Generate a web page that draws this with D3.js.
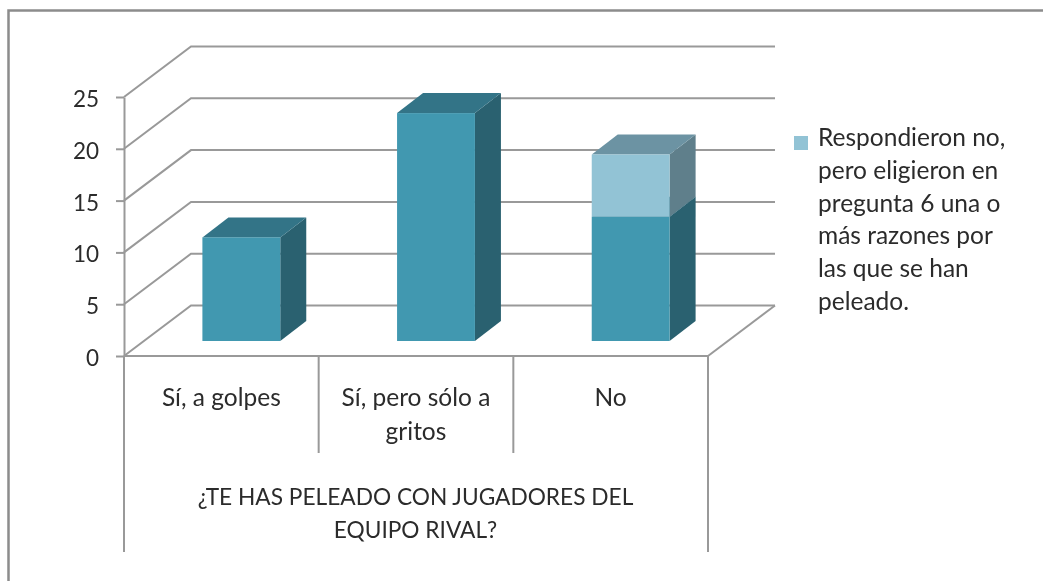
<!DOCTYPE html>
<html>
<head>
<meta charset="utf-8">
<script src="https://cdn.jsdelivr.net/npm/d3@7"></script>
<style>
  html, body { margin: 0; padding: 0; background: #fff; overflow: hidden; }
  svg { display: block; filter: blur(0.45px); }
  text { font-family: Lato, "Open Sans", sans-serif; fill: #2b2b2b; }
  .rule { stroke: #999; stroke-width: 2; fill: none; }
</style>
</head>
<body>
<div id="chart"></div>
<script>
// Datos
const categorias = ["Sí, a golpes", "Sí, pero sólo a gritos", "No"];
const respondieron = [10, 22, 12];
const eligieron = [0, 0, 6];
const ticksY = [0, 5, 10, 15, 20, 25];
const etiquetasCat = [["Sí, a golpes"], ["Sí, pero sólo a", "gritos"], ["No"]];
const tituloEje = ["¿TE HAS PELEADO CON JUGADORES DEL", "EQUIPO RIVAL?"];
const leyenda = ["Respondieron no,", "pero eligieron en", "pregunta 6 una o", "más razones por", "las que se han", "peleado."];

const W = 1043, H = 581;
const FONT_TICK = 22.5;
const FONT_LABEL = 24.5;  // Lato es mas estrecha en minusculas que el original
const FONT_TITLE = 22.7;

// Geometria del "3D"
const X0 = 124, X1 = 708, Y0 = 356, Y25 = 97;
const DEPTH_X = 67, DEPTH_Y = -50.5;      // fondo de la caja
const BAR_DX = 26, BAR_DY = -20;          // profundidad de cada barra
const BAR_SHIFT_X = 20, BAR_SHIFT_Y = -15; // barra centrada en la caja

const colores = [
  { front: "#4198b0", side: "#2a6170", top: "#337487" },
  { front: "#92c3d5", side: "#5f7f8b", top: "#6c93a3" }
];

const svg = d3.select("#chart").append("svg").attr("width", W).attr("height", H);

const x = d3.scaleBand().domain(categorias).range([X0, X1]).paddingInner(0).paddingOuter(0);
const y = d3.scaleLinear().domain([0, 25]).range([Y0, Y25]);
const barW = x.bandwidth() * 0.4;

// Marco (solo arriba e izquierda)
svg.append("path").attr("class", "rule")
  .attr("d", `M8.5,${H + 5} L8.5,10.5 L${W + 5},10.5`)
  .style("stroke", "#8c8c8c").style("stroke-width", 2.5);

// Paredes: rejilla lateral y del fondo
const rejilla = svg.append("g");
ticksY.forEach((t) => {
  rejilla.append("path").attr("class", "rule")
    .attr("d", `M${X0},${y(t)} L${X0 + DEPTH_X},${y(t) + DEPTH_Y} L${X1 + DEPTH_X},${y(t) + DEPTH_Y}`);
});
// Suelo
rejilla.append("path").attr("class", "rule")
  .attr("d", `M${X1},${Y0} L${X1 + DEPTH_X},${Y0 + DEPTH_Y}`);

// Eje Y
const ejeY = svg.append("g")
  .attr("transform", `translate(${X0},0)`)
  .call(d3.axisLeft(y).tickValues(ticksY).tickSize(8).tickPadding(17).tickSizeOuter(0));
ejeY.select(".domain").attr("class", "domain rule").attr("stroke", null);
ejeY.selectAll(".tick line").attr("stroke", "#999").attr("stroke-width", 2);
ejeY.selectAll(".tick text").style("font-size", FONT_TICK + "px").attr("fill", null).attr("dy", "0.42em");

// Eje X y tabla de categorias
svg.append("line").attr("class", "rule")
  .attr("x1", X0).attr("x2", X1).attr("y1", Y0).attr("y2", Y0);
categorias.forEach((c, i) => {
  const xLine = x(c);
  svg.append("line").attr("class", "rule")
    .attr("x1", xLine).attr("x2", xLine)
    .attr("y1", Y0).attr("y2", i === 0 ? 552 : 453);
});
svg.append("line").attr("class", "rule")
  .attr("x1", X1).attr("x2", X1).attr("y1", Y0).attr("y2", 552);

// Barras apiladas
const filas = categorias.map((c, i) => ({ cat: c, a: respondieron[i], b: eligieron[i] }));
const stack = d3.stack().keys(["a", "b"])(filas);

stack.forEach((serie, s) => {
  const g = svg.append("g");
  serie.forEach((d) => {
    if (d[1] - d[0] <= 0) return;
    const xl = x(d.data.cat) + (x.bandwidth() - barW) / 2 + BAR_SHIFT_X;
    const xr = xl + barW;
    const yt = y(d[1]) + BAR_SHIFT_Y;
    const yb = y(d[0]) + BAR_SHIFT_Y;
    g.append("polygon").attr("fill", colores[s].side)
      .attr("points", [[xr, yb], [xr + BAR_DX, yb + BAR_DY], [xr + BAR_DX, yt + BAR_DY], [xr, yt]].join(" "));
    g.append("polygon").attr("fill", colores[s].top)
      .attr("points", [[xl, yt], [xl + BAR_DX, yt + BAR_DY], [xr + BAR_DX, yt + BAR_DY], [xr, yt]].join(" "));
    g.append("rect").attr("fill", colores[s].front)
      .attr("x", xl).attr("y", yt).attr("width", barW).attr("height", yb - yt);
  });
});

// Etiquetas de categoria
categorias.forEach((c, i) => {
  etiquetasCat[i].forEach((linea, j) => {
    svg.append("text")
      .attr("x", x(c) + x.bandwidth() / 2)
      .attr("y", 406 + j * 33.5)
      .attr("text-anchor", "middle")
      .style("font-size", FONT_LABEL + "px")
      .text(linea);
  });
});

// Titulo del eje
tituloEje.forEach((linea, j) => {
  svg.append("text")
    .attr("x", (X0 + X1) / 2 - 0.5)
    .attr("y", 505 + j * 33)
    .attr("text-anchor", "middle")
    .style("font-size", FONT_TITLE + "px")
    .text(linea);
});

// Leyenda
svg.append("rect").attr("x", 794).attr("y", 136).attr("width", 14).attr("height", 14)
  .attr("fill", colores[1].front);
leyenda.forEach((linea, j) => {
  svg.append("text")
    .attr("x", 818)
    .attr("y", 146 + j * 32.8)
    .style("font-size", FONT_LABEL + "px")
    .text(linea);
});
</script>
</body>
</html>
